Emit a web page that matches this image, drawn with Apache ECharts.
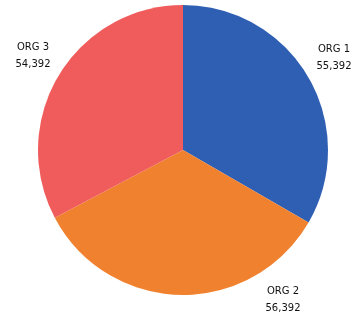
<!DOCTYPE html>
<html><head><meta charset="utf-8">
<script src="https://cdn.jsdelivr.net/npm/echarts@6/dist/echarts.min.js"></script>
<style>html,body{margin:0;padding:0;background:#fff}#c{width:359px;height:324px}</style>
</head><body><div id="c"></div>
<script>
const categories = ['ORG 1', 'ORG 2', 'ORG 3'];
const values = [55392, 56392, 54392];
const colors = ['#2f5fb3', '#f0822f', '#f05c5c'];
const labelSpots = [[334, 58], [283, 300], [33, 56]];

const chart = echarts.init(document.getElementById('c'), null, {renderer: 'canvas'});
chart.setOption({
  animation: false,
  series: [{
    type: 'pie',
    center: [183, 150],
    radius: 145,
    startAngle: 90,
    clockwise: true,
    data: categories.map((c, i) => ({name: c, value: values[i], itemStyle: {color: colors[i]}})),
    itemStyle: {borderWidth: 0},
    label: {
      show: true,
      position: 'outside',
      overflow: 'none',
      formatter: p => p.name + '\n' + p.value.toLocaleString('en-US'),
      fontFamily: 'DejaVu Sans',
      fontSize: 10,
      color: '#111',
      lineHeight: 17,
      align: 'center'
    },
    labelLine: {show: false, length: 6, length2: 0},
    labelLayout: function (params) {
      const s = labelSpots[params.dataIndex];
      return {x: s[0], y: s[1], align: 'center', verticalAlign: 'middle'};
    }
  }]
});
</script></body></html>
